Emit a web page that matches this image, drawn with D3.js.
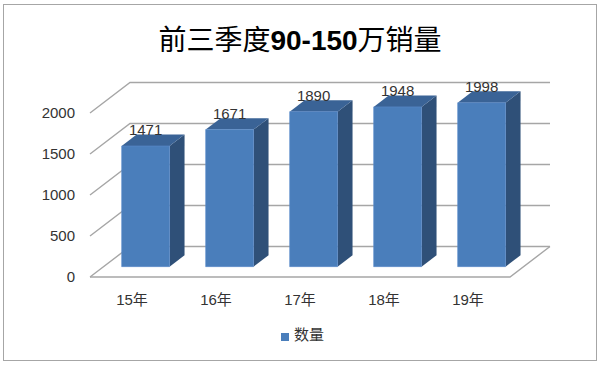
<!DOCTYPE html>
<html>
<head>
<meta charset="utf-8">
<script src="https://cdn.jsdelivr.net/npm/d3@7"></script>
<style>
  body { margin: 0; background: #fff; }
  text { font-family: "Liberation Sans", "Noto Sans CJK SC", sans-serif; }
</style>
</head>
<body>
<svg width="600" height="365"></svg>
<script>
const categories = ["15年", "16年", "17年", "18年", "19年"];
const values = [1471, 1671, 1890, 1948, 1998];
const yTicks = [0, 500, 1000, 1500, 2000];
const seriesName = "数量";

const svg = d3.select("svg");

// depth offset of the 3d box (front -> back)
const DX = 40, DY = -30.5;
const proj = (x, y, d) => [x + DX * d, y + DY * d];
const pts = arr => arr.map(p => p.join(",")).join(" ");

const xScale = d3.scaleBand()
  .domain(categories)
  .range([90, 510])
  .paddingInner(0.43)
  .paddingOuter(0.215);

const xBand = d3.scaleBand().domain(categories).range([90, 510]);

const yScale = d3.scaleLinear()
  .domain([0, 2000])
  .range([277, 113]);

// outer frame
svg.append("rect")
  .attr("x", 3.5).attr("y", 4.5)
  .attr("width", 593).attr("height", 356)
  .attr("fill", "#fff")
  .attr("stroke", "#a6a6a6");

// title
const title = svg.append("text")
  .attr("x", 300).attr("y", 50)
  .attr("text-anchor", "middle")
  .attr("font-size", 28)
  .attr("fill", "#000");
title.append("tspan").attr("font-family", "Noto Sans CJK SC").text("前三季度");
title.append("tspan").attr("font-weight", "bold").text("90-150");
title.append("tspan").attr("font-family", "Noto Sans CJK SC").text("万销量");

const grid = svg.append("g")
  .attr("fill", "none")
  .attr("stroke", "#a6a6a6")
  .attr("stroke-width", 1.4);

const x0 = xBand.range()[0], x1 = xBand.range()[1];

// back wall + side wall lines
yTicks.forEach(v => {
  const yf = yScale(v);
  grid.append("polyline")
    .attr("points", pts([proj(x0, yf, 0), proj(x0, yf, 1), proj(x1, yf, 1)]));
});

// floor front and right edges
grid.append("polyline")
  .attr("points", pts([proj(x0, yScale(0), 0), proj(x1, yScale(0), 0), proj(x1, yScale(0), 1)]));

// y labels
svg.append("g").selectAll("text")
  .data(yTicks)
  .enter()
  .append("text")
  .attr("x", 75)
  .attr("y", d => yScale(d) + 5)
  .attr("text-anchor", "end")
  .attr("font-size", 15)
  .attr("fill", "#333")
  .text(d => d);

// category labels
svg.append("g").selectAll("text")
  .data(categories)
  .enter()
  .append("text")
  .attr("x", d => xBand(d) + xBand.bandwidth() / 2)
  .attr("y", 305)
  .attr("text-anchor", "middle")
  .attr("font-size", 15)
  .attr("fill", "#333")
  .text(d => d);

// bars
const dFront = 0.34, dBack = 0.715;
const bars = svg.append("g").selectAll("g")
  .data(values.map((v, i) => ({ name: categories[i], value: v })))
  .enter()
  .append("g");

const corners = d => {
  const xl = xScale(d.name), xr = xl + xScale.bandwidth();
  const yb = yScale(0), yt = yScale(d.value);
  return { xl, xr, yb, yt };
};

bars.append("polygon")
  .attr("fill", "#2f5078")
  .attr("points", d => {
    const c = corners(d);
    return pts([proj(c.xr, c.yb, dFront), proj(c.xr, c.yb, dBack), proj(c.xr, c.yt, dBack), proj(c.xr, c.yt, dFront)]);
  });

bars.append("polygon")
  .attr("fill", "#3a6396")
  .attr("points", d => {
    const c = corners(d);
    return pts([proj(c.xl, c.yt, dFront), proj(c.xr, c.yt, dFront), proj(c.xr, c.yt, dBack), proj(c.xl, c.yt, dBack)]);
  });

bars.append("polygon")
  .attr("fill", "#4a7ebb")
  .attr("stroke", "#5a8ccb")
  .attr("stroke-width", 0.6)
  .attr("points", d => {
    const c = corners(d);
    return pts([proj(c.xl, c.yb, dFront), proj(c.xr, c.yb, dFront), proj(c.xr, c.yt, dFront), proj(c.xl, c.yt, dFront)]);
  });

// data labels
bars.append("text")
  .attr("x", d => proj(xScale(d.name) + xScale.bandwidth() / 2, 0, dFront)[0])
  .attr("y", d => proj(0, yScale(d.value), dFront)[1] - 11)
  .attr("text-anchor", "middle")
  .attr("font-size", 15)
  .attr("fill", "#333")
  .text(d => d.value);

// legend
const legend = svg.append("g");
legend.append("rect")
  .attr("x", 281).attr("y", 333)
  .attr("width", 8).attr("height", 8)
  .attr("fill", "#4a7ebb");
legend.append("text")
  .attr("x", 294).attr("y", 339.5)
  .attr("font-size", 15)
  .attr("font-family", "Noto Sans CJK SC")
  .attr("fill", "#333")
  .text(seriesName);
</script>
</body>
</html>
